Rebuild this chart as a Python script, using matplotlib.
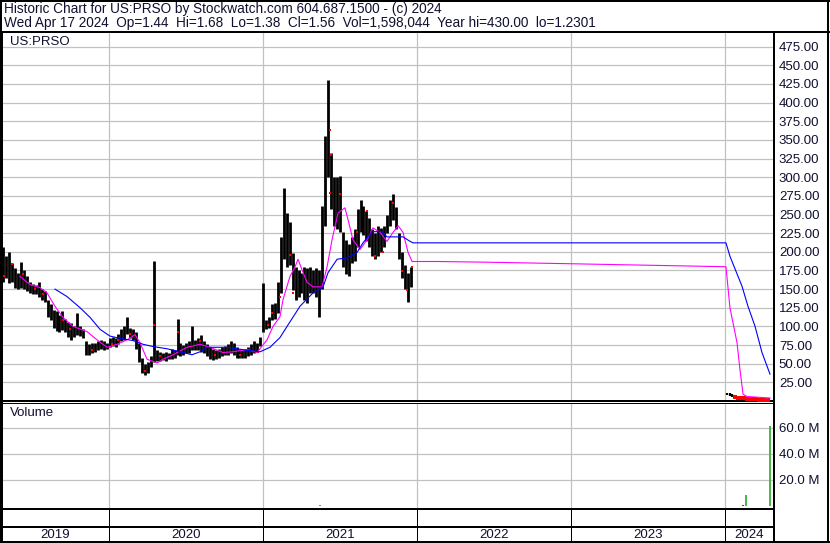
import matplotlib
matplotlib.use('Agg')
import matplotlib.pyplot as plt
import numpy as np
from matplotlib.lines import Line2D

plt.rcParams['font.family'] = ['Liberation Sans', 'DejaVu Sans']

W, H = 830, 543

# weekly high / low bars, late Apr 2019 .. Dec 2021 (decimal years)
week0 = 2019.314
bar_hi = [
    207, 195, 200, 185, 178, 172, 186, 175, 168, 160,
    157, 155, 160, 150, 148, 136, 130, 122, 120, 115,
    120, 110, 106, 104, 100, 118, 100, 96, 80, 76,
    78, 78, 80, 82, 80, 78, 84, 86, 84, 90,
    96, 100, 112, 98, 96, 92, 78, 58, 50, 52,
    60, 187, 68, 66, 64, 66, 65, 70, 68, 110,
    78, 75, 78, 80, 101, 82, 85, 88, 80, 76,
    72, 70, 68, 70, 72, 74, 76, 80, 78, 72,
    70, 68, 70, 72, 76, 80, 78, 86, 158, 108,
    112, 130, 132, 160, 220, 286, 252, 240, 199, 180,
    176, 172, 180, 178, 180, 176, 178, 176, 261, 355,
    430, 333, 300, 300, 301, 226, 216, 210, 220, 230,
    257, 270, 262, 255, 245, 230, 225, 234, 232, 234,
    250, 270, 277, 260, 225, 200, 182, 172, 180]
bar_lo = [
    160, 165, 158, 160, 152, 150, 152, 150, 147, 145,
    143, 143, 140, 136, 133, 112, 108, 98, 94, 92,
    95, 92, 86, 82, 86, 88, 87, 85, 62, 62,
    64, 66, 69, 70, 68, 70, 72, 74, 73, 76,
    80, 82, 90, 84, 82, 70, 52, 38, 35, 38,
    45, 52, 54, 53, 55, 54, 56, 56, 57, 62,
    60, 62, 64, 65, 68, 68, 68, 66, 64, 60,
    56, 55, 56, 58, 60, 62, 62, 64, 62, 58,
    58, 57, 58, 60, 62, 64, 66, 74, 92, 96,
    98, 108, 110, 118, 145, 190, 180, 182, 149, 136,
    140, 145, 135, 132, 145, 145, 140, 112, 150, 234,
    300, 257, 234, 230, 226, 180, 170, 167, 185, 188,
    207, 226, 222, 215, 207, 195, 190, 194, 200, 207,
    225, 234, 243, 230, 190, 165, 150, 133, 153]

# 2024 weekly bars
week24 = 2024.01
hi_24 = [11, 10.5, 9, 8, 6.5, 5, 4.5, 4, 3.5, 3.2, 3.0, 2.6, 2.2, 1.9, 1.68]
lo_24 = [7.5, 7, 6, 5, 4, 3.5, 3, 2.8, 2.6, 2.4, 2.1, 1.8, 1.5, 1.3, 1.38]
cl_24 = [8, 7.5, 6.5, 5.5, 4.5, 4, 3.5, 3, 3, 2.6, 2.4, 2, 1.7, 1.5, 1.56]

# red close marks 2019-2021
red_years = [2019.318, 2019.370, 2019.442, 2019.519, 2019.571, 2019.701, 2019.747,
             2019.890, 2020.019, 2020.058, 2020.136, 2020.234, 2020.292, 2020.331,
             2020.448, 2020.591, 2020.688, 2020.851, 2020.968, 2021.032, 2021.058,
             2021.110, 2021.175, 2021.195, 2021.435, 2021.442, 2021.435, 2021.500,
             2021.610, 2021.675, 2021.727, 2021.779, 2021.844, 2021.903, 2021.935,
             2021.968]
red_vals = [167, 183, 170, 150, 143, 108, 97, 68, 77, 82, 90, 40, 102, 60, 93, 80,
            62, 62, 66, 102, 118, 139, 196, 145, 363, 330, 279, 277, 226, 255, 195,
            200, 266, 174, 149, 180]

# moving averages
ma_fast_years = [2019.422, 2019.487, 2019.552, 2019.597, 2019.649, 2019.701, 2019.766,
                 2019.857, 2019.922, 2019.987, 2020.052, 2020.117, 2020.169, 2020.201,
                 2020.247, 2020.312, 2020.351, 2020.416, 2020.506, 2020.591, 2020.656,
                 2020.740, 2020.805, 2020.896, 2020.961, 2021.026, 2021.065, 2021.110,
                 2021.130, 2021.175, 2021.208, 2021.227, 2021.253, 2021.286, 2021.325,
                 2021.383, 2021.416, 2021.448, 2021.487, 2021.532, 2021.552, 2021.584,
                 2021.630, 2021.675, 2021.714, 2021.760, 2021.805, 2021.844, 2021.877,
                 2021.909, 2021.942, 2021.968, 2022.136, 2022.474, 2022.994, 2024.006,
                 2024.032, 2024.078, 2024.097, 2024.117, 2024.143, 2024.292]
ma_fast = [167, 156, 152, 145, 127, 112, 100, 93, 82, 72, 76, 82, 89, 78, 56, 51, 56,
           62, 72, 76, 72, 65, 66, 69, 65, 82, 100, 113, 136, 167, 180, 190, 176, 159,
           153, 153, 180, 216, 252, 259, 243, 216, 203, 216, 232, 226, 214, 226, 235,
           226, 199, 187, 187, 186, 184, 180, 125, 78, 42, 9, 6, 4]

ma_slow_years = [2019.649, 2019.727, 2019.812, 2019.877, 2019.942, 2020.006, 2020.071,
                 2020.156, 2020.221, 2020.286, 2020.377, 2020.461, 2020.539, 2020.591,
                 2020.636, 2020.766, 2020.896, 2020.981, 2021.045, 2021.110, 2021.156,
                 2021.240, 2021.325, 2021.390, 2021.422, 2021.481, 2021.545, 2021.610,
                 2021.649, 2021.708, 2021.773, 2021.805, 2021.909, 2021.955, 2021.974,
                 2024.006, 2024.032, 2024.110, 2024.149, 2024.195, 2024.240, 2024.292]
ma_slow = [150, 140, 125, 112, 96, 87, 84, 81, 76, 73, 70, 66, 62, 66, 72, 72, 68, 66,
           72, 85, 100, 127, 145, 153, 172, 190, 192, 199, 212, 227, 227, 220, 220, 214,
           212, 212, 194, 154, 127, 100, 65, 36]

# volume
vol_years = [2021.37, 2024.117, 2024.136, 2024.292]
vol_vals = [0.8e6, 0.6e6, 8.5e6, 61.5e6]
vol_up = [True, False, True, True]

years = [2019, 2020, 2021, 2022, 2023, 2024]
x_lo, x_hi = 2019.305, 2024.318
price_ticks = np.arange(25, 476, 25)
vol_ticks = [20e6, 40e6, 60e6]

GRID = '#c0c0c0'
TXT = '#101030'
PX = 72 / 100


def px_axes(fig, x0, y0, x1, y1):
    return fig.add_axes([x0 / W, 1 - y1 / H, (x1 - x0) / W, (y1 - y0) / H])


def fig_line(fig, x0, y0, x1, y1, lw=2):
    fig.add_artist(Line2D([x0 / W, x1 / W], [1 - y0 / H, 1 - y1 / H],
                          transform=fig.transFigure, color='black', lw=lw * PX))


def style_panel(a, ticks, labels):
    a.set_xticks([])
    a.yaxis.tick_right()
    a.set_yticks(ticks)
    a.set_yticklabels(labels)
    a.tick_params(axis='y', length=0, pad=3.5, labelsize=9.5, labelcolor=TXT)
    a.set_axisbelow(True)
    a.yaxis.grid(True, color=GRID, lw=1.2 * PX)
    for v in years[1:]:
        a.axvline(v, color=GRID, lw=1.2 * PX, zorder=1, snap=True)
    for s in a.spines.values():
        s.set_linewidth(2 * PX)


fig = plt.figure(figsize=(W / 100, H / 100), dpi=100)
fig.patch.set_facecolor('white')

# header
fig.text(4 / W, 1 - 9 / H, 'Historic Chart for US:PRSO by Stockwatch.com 604.687.1500 - (c) 2024',
         fontsize=9.8, va='center', ha='left', color=TXT)
fig.text(4 / W, 1 - 23 / H,
         'Wed Apr 17 2024  Op=1.44  Hi=1.68  Lo=1.38  Cl=1.56  Vol=1,598,044  Year hi=430.00  lo=1.2301',
         fontsize=9.8, va='center', ha='left', color=TXT)

# price panel
ax = px_axes(fig, 2, 33, 774, 401)
ax.set_xlim(x_lo, x_hi)
ax.set_ylim(0, 493.3)
style_panel(ax, price_ticks, [f'{v:.2f}' for v in price_ticks])
ax.spines['top'].set_visible(False)

bx = week0 + np.arange(len(bar_hi)) * 7 / 365.25
ax.vlines(bx, bar_lo, bar_hi, color='black', lw=2.0, zorder=2)
bx24 = week24 + np.arange(len(hi_24)) * 7 / 365.25
ax.vlines(bx24, lo_24, hi_24, color='black', lw=1.6, zorder=2)
ax.plot(red_years, red_vals, 's', color='red', ms=1.8, mew=0, zorder=3)
ax.plot(bx24[3:], cl_24[3:], 's', color='red', ms=2.2, mew=0, zorder=3)

ax.plot(ma_fast_years, ma_fast, color='#ff00ff', lw=0.8, zorder=4)
ax.plot(ma_slow_years, ma_slow, color='#0000ff', lw=0.8, zorder=4)

ax.text(8 / 772, 1 - 9 / 368, 'US:PRSO', transform=ax.transAxes, fontsize=9.5,
        va='center', ha='left', color=TXT)

# volume panel
axv = px_axes(fig, 2, 403, 774, 509)
axv.set_xlim(x_lo, x_hi)
axv.set_ylim(-2.3e6, 79.2e6)
style_panel(axv, vol_ticks, [f'{v / 1e6:.1f} M' for v in vol_ticks])
axv.spines['top'].set_linewidth(1 * PX)
axv.bar(vol_years, vol_vals, width=2 / 154, bottom=0,
        color=['#4cb84c' if u else 'red' for u in vol_up], zorder=2)
axv.text(8 / 772, 1 - 10 / 106, 'Volume', transform=axv.transAxes, fontsize=9.5,
         va='center', ha='left', color=TXT)

# date strip
axd = px_axes(fig, 2, 509, 774, 542)
axd.set_xlim(x_lo, x_hi)
axd.set_ylim(0, 1)
axd.axhline(1 - 17.5 / 33, color='black', lw=2 * PX)
for y in years[1:]:
    axd.axvline(y, color='black', lw=1 * PX)
for y in years:
    a, b = max(y, x_lo), min(y + 1, x_hi)
    axd.text((a + b) / 2, 7 / 33, str(y), ha='center', va='center', fontsize=9.5, color=TXT)
axd.set_xticks([])
axd.set_yticks([])
for s in axd.spines.values():
    s.set_linewidth(2 * PX)

# outer frame and separators
fig_line(fig, 0, 1, 829, 1, 2)
fig_line(fig, 1, 0, 1, 543, 2)
fig_line(fig, 828, 0, 828, 543, 2)
fig_line(fig, 0, 542, 830, 542, 2)
fig_line(fig, 0, 32, 830, 32, 2)
fig_line(fig, 774, 32, 774, 543, 2)

fig.savefig('out.png', dpi=100)
